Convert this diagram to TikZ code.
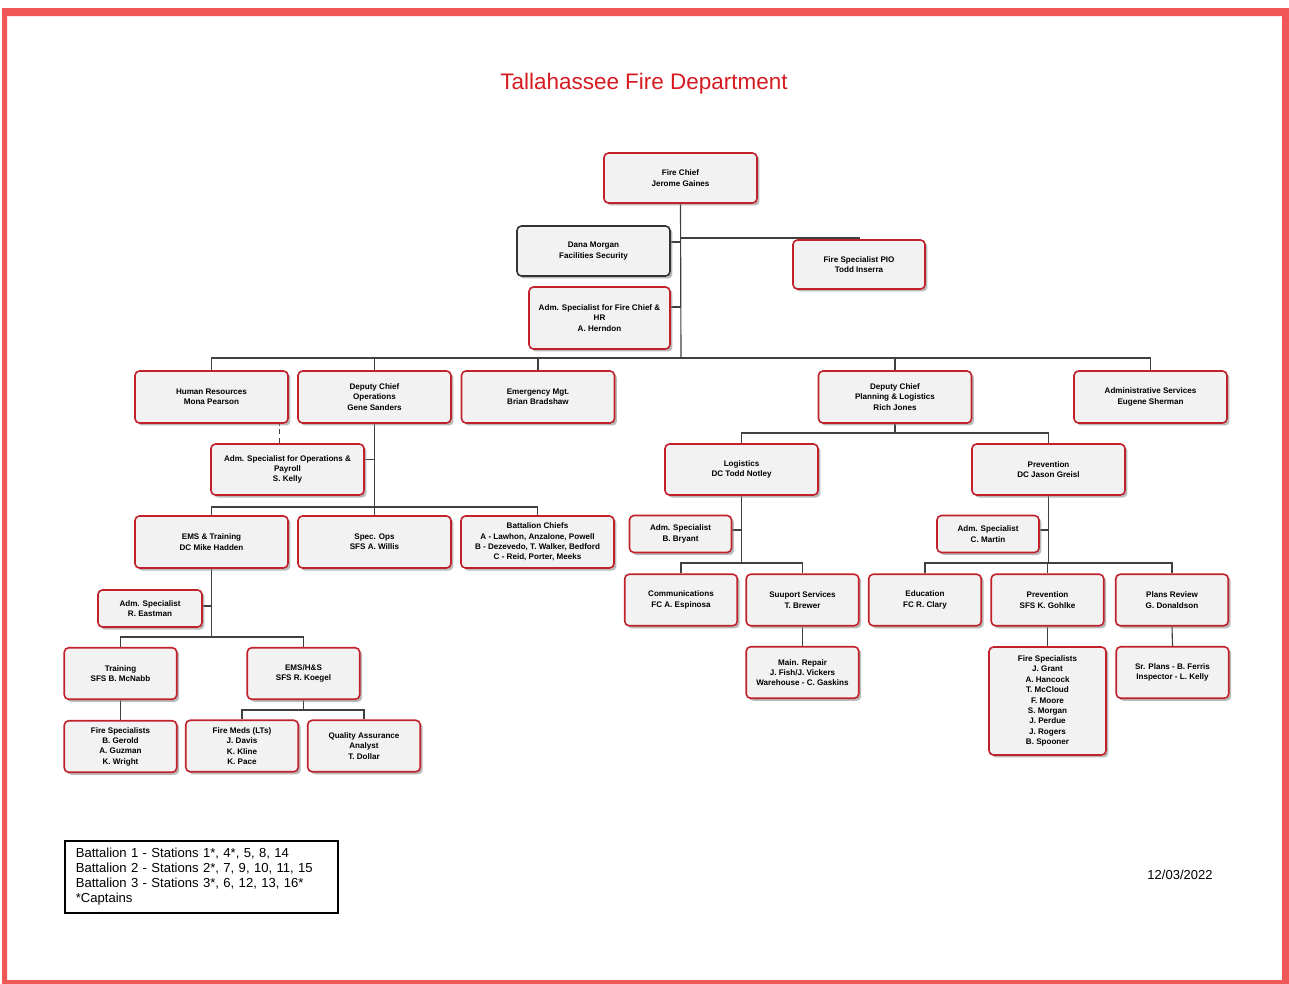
\documentclass[tikz,border=0pt]{standalone}
\usepackage{xcolor}
\usepackage{fontspec}
\setmainfont{Liberation Sans}
\usepackage{tikz}
\usetikzlibrary{positioning, shadows, calc, backgrounds}
\definecolor{framered}{rgb}{0.94, 0.34, 0.34}
\definecolor{titlered}{rgb}{0.84, 0.11, 0.13}
\definecolor{unitred}{rgb}{0.76, 0.13, 0.17}
\definecolor{unitfill}{rgb}{0.95, 0.95, 0.95}
\newcommand{\unitfont}{\bfseries\fontsize{4.6}{5.9}\selectfont}

\tikzset{
	unit/.style={draw=unitred, line width=0.9pt, fill=unitfill, rounded corners=2.5pt, align=center, inner sep=1pt, font=\unitfont,
		drop shadow={shadow xshift=0.05cm, shadow yshift=-0.05cm, fill=black!45, opacity=0.6}},
	wide/.style={unit, minimum width=3.06cm, minimum height=1.04cm},
	narrow/.style={unit, minimum width=2.25cm, minimum height=1.03cm},
	small/.style={unit, minimum width=2.04cm, minimum height=0.74cm},
	wire/.style={draw=black!75, line width=0.65pt},
}

\begin{document}
\begin{tikzpicture}[x=0.02cm, y=-0.02cm]
		\useasboundingbox (0,0) rectangle (1289,984);
		\fill[framered, even odd rule] (2,8) rectangle (1289,984) (7,16) rectangle (1282,980);
		
		\node[text=titlered, font=\fontsize{12.8}{14}\selectfont] (title) at (644,84) {Tallahassee Fire Department};
		
		% chief and staff
		\node[wide, minimum height=1.0cm] (chief) at (680.5,178) {Fire Chief\\Jerome Gaines};
		\node[wide, draw=black!80, minimum height=1.0cm] (dana) at (593.5,251) {Dana Morgan\\Facilities Security};
		\node[unit, minimum width=2.64cm, minimum height=0.98cm] (pio) at (859,264.5) {Fire Specialist PIO\\Todd Inserra};
		\node[unit, minimum width=2.82cm, minimum height=1.24cm] (admchief) at (599.5,318) {Adm. Specialist for Fire Chief \&\\HR\\A. Herndon};
		
		% second row
		\pgfmathsetmacro{\rowb}{397}
		\node[wide] (hr) at (211.5,\rowb) {Human Resources\\Mona Pearson};
		\node[wide] (ops) at (374.5,\rowb) {Deputy Chief\\Operations\\Gene Sanders};
		\node[wide] (emerg) at (538,\rowb) {Emergency Mgt.\\Brian Bradshaw};
		\node[wide] (dcpl) at (895,\rowb) {Deputy Chief\\Planning \& Logistics\\Rich Jones};
		\node[wide] (admin) at (1150.5,\rowb) {Administrative Services\\Eugene Sherman};
		
		% operations side
		\node[wide, minimum height=1.02cm] (admops) at (287.5,469.5) {Adm. Specialist for Operations \&\\Payroll\\S. Kelly};
		\node[wide] (emstr) at (211.5,542) {EMS \& Training\\DC Mike Hadden};
		\node[wide] (specops) at (374.5,542) {Spec. Ops\\SFS A. Willis};
		\node[wide] (batt) at (537.5,542) {Battalion Chiefs\\A - Lawhon, Anzalone, Powell\\B - Dezevedo, T. Walker, Bedford\\C - Reid, Porter, Meeks};
		\node[small, minimum width=2.08cm] (eastman) at (150,608.5) {Adm. Specialist\\R. Eastman};
		\node[narrow] (training) at (120.5,673.5) {Training\\SFS B. McNabb};
		\node[narrow] (emshs) at (303.5,673.5) {EMS/H\&S\\SFS R. Koegel};
		\node[narrow] (firespecA) at (120.5,746.5) {Fire Specialists\\B. Gerold\\A. Guzman\\K. Wright};
		\node[narrow] (firemeds) at (242,746) {Fire Meds (LTs)\\J. Davis\\K. Kline\\K. Pace};
		\node[narrow] (qa) at (364,746) {Quality Assurance\\Analyst\\T. Dollar};
		
		% planning and logistics side
		\node[wide, minimum height=1.02cm] (logistics) at (741.5,469.5) {Logistics\\DC Todd Notley};
		\node[wide, minimum height=1.02cm] (prevdc) at (1048.5,469.5) {Prevention\\DC Jason Greisl};
		\node[small] (bryant) at (680.5,534) {Adm. Specialist\\B. Bryant};
		\node[small] (martin) at (988,534) {Adm. Specialist\\C. Martin};
		\node[narrow] (comms) at (681,600) {Communications\\FC A. Espinosa};
		\node[narrow] (support) at (802.5,600) {Suuport Services\\T. Brewer};
		\node[narrow] (education) at (925,600) {Education\\FC R. Clary};
		\node[narrow] (prevsfs) at (1047.5,600) {Prevention\\SFS K. Gohlke};
		\node[narrow] (plans) at (1172,600) {Plans Review\\G. Donaldson};
		\node[narrow] (repair) at (802.5,672.5) {Main. Repair\\J. Fish/J. Vickers\\Warehouse - C. Gaskins};
		\node[narrow, minimum width=2.34cm, minimum height=2.16cm] (firespecB) at (1047.5,701) {Fire Specialists\\J. Grant\\A. Hancock\\T. McCloud\\F. Moore\\S. Morgan\\J. Perdue\\J. Rogers\\B. Spooner};
		\node[narrow] (srplans) at (1172.5,672.5) {Sr. Plans - B. Ferris\\Inspector - L. Kelly};
		
		% junctions
		\coordinate (pioJ) at (681,238);
		\coordinate (bus0) at (681,358);
		\coordinate (bus2) at (374.5,507);
		\coordinate (bus3) at (211.5,637);
		\coordinate (bus4) at (303.5,710);
		\coordinate (bus5) at (895,433);
		\coordinate (bus6) at (741.5,563);
		\coordinate (bus7) at (1048.5,563);
		
		\begin{pgfonlayer}{background}
		\fill[white] (7,16) rectangle (1282,980);
		\draw[wire] (chief.south) -- (bus0);
		\draw[wire] (pioJ) -| (pio.north);
		\draw[wire] ([yshift=0.18cm]dana.east) -| (chief.south);
		\draw[wire] ([yshift=0.22cm]admchief.east) -| (chief.south);
		\draw[wire] (hr.north) |- (bus0) -| (admin.north);
		\draw[wire] (ops.north) -- (ops.north |- bus0);
		\draw[wire] (emerg.north) -- (emerg.north |- bus0);
		\draw[wire] (dcpl.north) -- (dcpl.north |- bus0);
		
		\draw[wire, densely dashed] ([xshift=-0.16cm]admops.north) -- ([xshift=-0.16cm]admops.north |- hr.south);
		\draw[wire] (ops.south) -- (bus2);
		\draw[wire] ([yshift=0.2cm]admops.east) -| (ops.south);
		\draw[wire] (emstr.north) |- (bus2) -| (batt.north);
		\draw[wire] (specops.north) -- (specops.north |- bus2);
		\draw[wire] (emstr.south) -- (bus3);
		\draw[wire] ([yshift=0.05cm]eastman.east) -| (emstr.south);
		\draw[wire] (training.north) |- (bus3) -| (emshs.north);
		\draw[wire] (training.south) -- (firespecA.north);
		\draw[wire] (emshs.south) -- (bus4);
		\draw[wire] (firemeds.north) |- (bus4) -| (qa.north);
		
		\draw[wire] (dcpl.south) -- (bus5);
		\draw[wire] (logistics.north) |- (bus5) -| (prevdc.north);
		\draw[wire] (logistics.south) -- (bus6);
		\draw[wire] ([yshift=0.08cm]bryant.east) -| (logistics.south);
		\draw[wire] (comms.north) |- (bus6) -| (support.north);
		\draw[wire] (support.south) -- (repair.north);
		\draw[wire] (prevdc.south) -- (bus7);
		\draw[wire] ([yshift=0.08cm]martin.east) -| (prevdc.south);
		\draw[wire] (education.north) |- (bus7) -| (plans.north);
		\draw[wire] (prevsfs.north) -- (prevsfs.north |- bus7);
		\draw[wire] (prevsfs.south) -- (firespecB.north);
		\draw[wire] (plans.south) -- (srplans.north);
		\end{pgfonlayer}
		
		\node[draw=black, line width=0.9pt, anchor=north west, align=left, minimum width=5.46cm, minimum height=1.44cm, text width=5.02cm, inner xsep=0.22cm, font=\fontsize{7.45}{8.5}\selectfont] (stations) at (64,840)
			{Battalion 1 - Stations 1*, 4*, 5, 8, 14\\Battalion 2 - Stations 2*, 7, 9, 10, 11, 15\\Battalion 3 - Stations 3*, 6, 12, 13, 16*\\{*}Captains};
		\node[font=\fontsize{7.4}{9}\selectfont] (stamp) at (1180,875) {12/03/2022};
\end{tikzpicture}
\end{document}
